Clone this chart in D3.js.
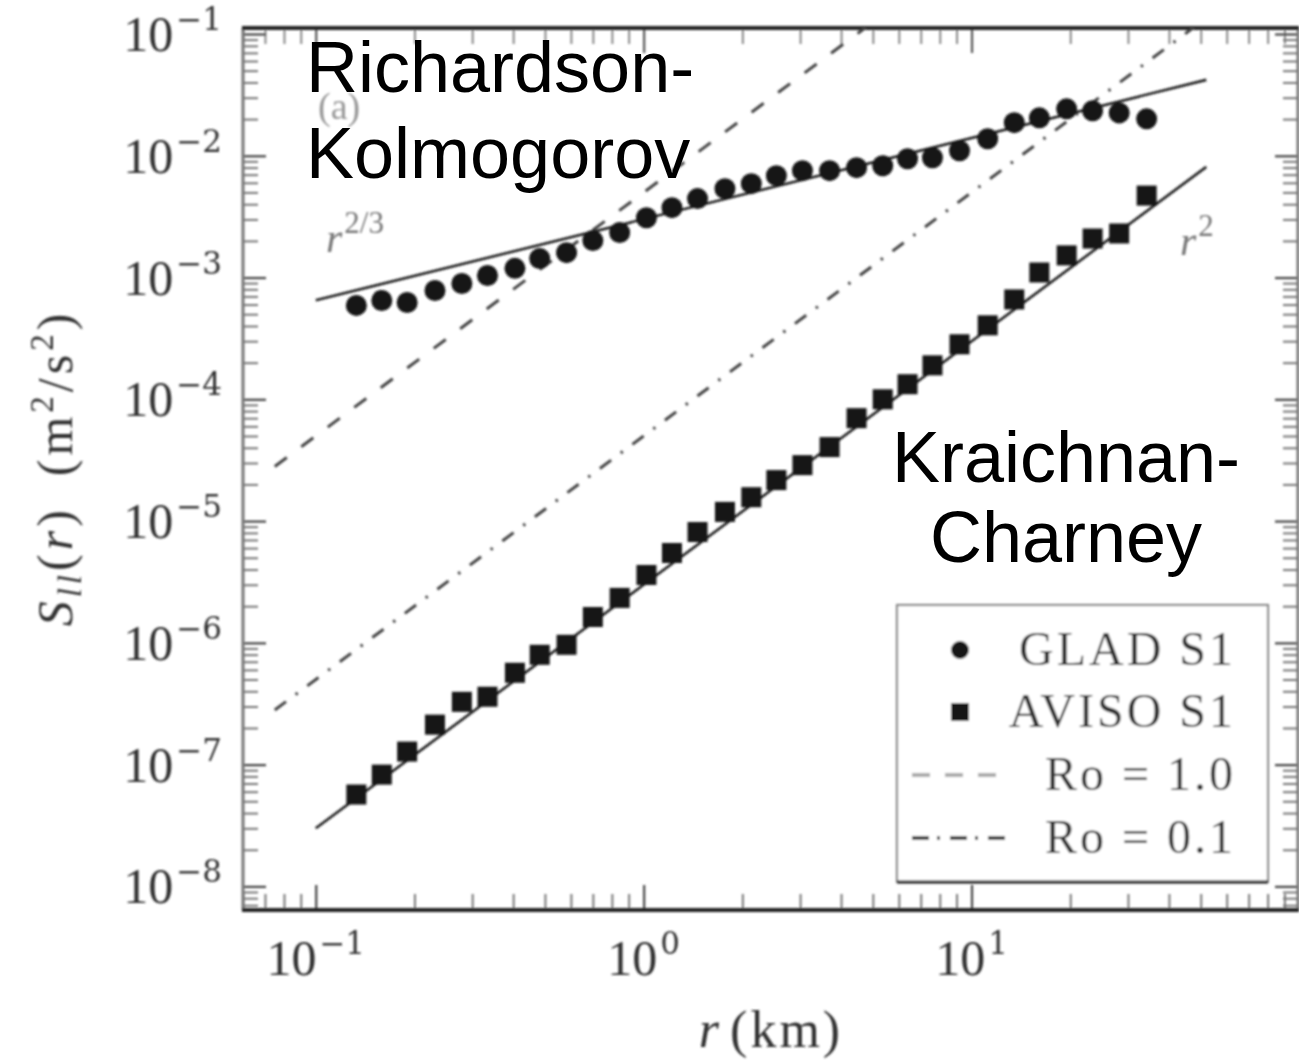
<!DOCTYPE html>
<html>
<head>
<meta charset="utf-8">
<script src="https://cdn.jsdelivr.net/npm/d3@7"></script>
<style>
  body { margin: 0; background: #fff; }
  svg { display: block; }
</style>
</head>
<body>
<svg id="chart" width="1299" height="1064"></svg>
<script>
// Separation bins r (km), shared by both datasets
const rBins = [0.133, 0.159, 0.190, 0.231, 0.279, 0.334, 0.405, 0.482, 0.582, 0.700,
               0.845, 1.02, 1.22, 1.46, 1.77, 2.13, 2.54, 3.05, 3.69, 4.46,
               5.36, 6.38, 7.60, 9.19, 11.2, 13.5, 16.1, 19.5, 23.4, 28.2, 34.2];

// Second-order longitudinal structure function S_ll(r), m^2/s^2
const gladS1 = [5.90e-4, 6.48e-4, 6.24e-4, 7.83e-4, 8.93e-4, 1.04e-3, 1.19e-3, 1.43e-3, 1.60e-3, 2.01e-3,
                2.34e-3, 3.10e-3, 3.75e-3, 4.45e-3, 5.37e-3, 5.90e-3, 6.86e-3, 7.54e-3, 7.54e-3, 7.98e-3,
                8.28e-3, 9.46e-3, 9.64e-3, 1.10e-2, 1.38e-2, 1.87e-2, 2.05e-2, 2.43e-2, 2.34e-2, 2.25e-2, 2.01e-2];
const avisoS1 = [5.68e-8, 8.28e-8, 1.28e-7, 2.13e-7, 3.28e-7, 3.61e-7, 5.68e-7, 7.98e-7, 9.64e-7, 1.63e-6,
                 2.34e-6, 3.61e-6, 5.47e-6, 8.13e-6, 1.19e-5, 1.57e-5, 2.17e-5, 2.88e-5, 4.05e-5, 7.00e-5,
                 1.00e-4, 1.33e-4, 1.90e-4, 2.83e-4, 4.05e-4, 6.61e-4, 1.10e-3, 1.52e-3, 2.09e-3, 2.30e-3, 4.71e-3];

// Power-law guide lines (end points)
const kolFitR = [0.1, 52];     const kolFitS = [6.5e-4, 4.2e-2];   // r^{2/3}
const kcFitR = [0.1, 52];      const kcFitS = [3.0e-8, 8.1e-3];    // r^2
const ro10R = [0.075, 5.0];    const ro10S = [2.81e-5, 0.125];     // Ro = 1.0
const ro01R = [0.075, 50];     const ro01S = [2.81e-7, 0.125];     // Ro = 0.1

// Axis ticks
const xMajor = [0.1, 1, 10];
const xExp = ["−1", "0", "1"];
const yMajor = [1e-1, 1e-2, 1e-3, 1e-4, 1e-5, 1e-6, 1e-7, 1e-8];
const yExp = ["−1", "−2", "−3", "−4", "−5", "−6", "−7", "−8"];

const legendLabels = ["GLAD S1", "AVISO S1", "Ro = 1.0", "Ro = 0.1"];

const svg = d3.select("#chart");
const L = 243, R = 1298, T = 28, B = 910;
const x = d3.scaleLog().domain([0.06, 99]).range([L, R]);
const y = d3.scaleLog().domain([0.112, 6.4e-9]).range([T, B]);

const defs = svg.append("defs");
defs.append("clipPath").attr("id", "plotClip")
  .append("rect").attr("x", L).attr("y", T).attr("width", R - L).attr("height", B - T);
defs.append("filter").attr("id", "soft")
  .attr("x", "-5%").attr("y", "-5%").attr("width", "110%").attr("height", "110%")
  .append("feGaussianBlur").attr("stdDeviation", 0.9);

const chart = svg.append("g").attr("filter", "url(#soft)");
const serif = "'Liberation Serif', 'DejaVu Serif', serif";
const wideSerif = "'DejaVu Serif', 'Liberation Serif', serif";

// ---- ticks (inside, on all four sides)
const xMinor = x.ticks().filter(v => !xMajor.some(m => Math.abs(m - v) / m < 1e-6));
const yMinor = y.ticks().filter(v => !yMajor.some(m => Math.abs(m - v) / m < 1e-6));

function tickAxis(axis, transform, values, size, color, width) {
  const g = chart.append("g").attr("transform", transform)
    .call(axis.tickValues(values).tickSize(-size).tickFormat(() => ""));
  g.select(".domain").remove();
  g.selectAll(".tick line").attr("stroke", color).attr("stroke-width", width);
}
tickAxis(d3.axisBottom(x), `translate(0,${B})`, xMinor, 16, "#777", 2);
tickAxis(d3.axisBottom(x), `translate(0,${B})`, xMajor, 25, "#444", 2.2);
tickAxis(d3.axisTop(x), `translate(0,${T})`, xMinor, 16, "#888", 2);
tickAxis(d3.axisTop(x), `translate(0,${T})`, xMajor, 25, "#555", 2.2);
tickAxis(d3.axisLeft(y), `translate(${L},0)`, yMinor, 15, "#777", 2);
tickAxis(d3.axisLeft(y), `translate(${L},0)`, yMajor, 23, "#444", 2.2);
tickAxis(d3.axisRight(y), `translate(${R},0)`, yMinor, 15, "#777", 2);
tickAxis(d3.axisRight(y), `translate(${R},0)`, yMajor, 23, "#444", 2.2);

// ---- frame
chart.append("line").attr("x1", L).attr("x2", L).attr("y1", T).attr("y2", B)
  .attr("stroke", "#777").attr("stroke-width", 3);
chart.append("line").attr("x1", R).attr("x2", R).attr("y1", T).attr("y2", B)
  .attr("stroke", "#777").attr("stroke-width", 3);
chart.append("line").attr("x1", L - 1).attr("x2", R + 1).attr("y1", T).attr("y2", T)
  .attr("stroke", "#222").attr("stroke-width", 4);
chart.append("line").attr("x1", L - 1).attr("x2", R + 1).attr("y1", B).attr("y2", B)
  .attr("stroke", "#222").attr("stroke-width", 4);

// ---- tick labels: 10 with a superscript exponent
function powerLabel(g, px, py, anchor, exp) {
  const t = g.append("text").attr("x", px).attr("y", py).attr("text-anchor", anchor)
    .attr("font-family", serif).attr("font-size", 50);
  t.append("tspan").text("10");
  t.append("tspan").attr("dx", 3).attr("dy", -21).attr("font-family", wideSerif)
    .attr("font-size", 31).text(exp);
}
const xl = chart.append("g").attr("fill", "#333");
xMajor.forEach((v, i) => powerLabel(xl, x(v), 975, "middle", xExp[i]));
const yl = chart.append("g").attr("fill", "#333");
yMajor.forEach((v, i) => powerLabel(yl, 222, y(v) + 17, "end", yExp[i]));

// ---- axis titles
const xt = chart.append("text").attr("x", 771).attr("y", 1047)
  .attr("text-anchor", "middle").attr("font-family", serif).attr("font-size", 52)
  .attr("letter-spacing", 3).attr("fill", "#333");
xt.append("tspan").attr("font-style", "italic").text("r");
xt.append("tspan").attr("dx", 8).text("(km)");

const yt = chart.append("text").attr("transform", "translate(72,468) rotate(-90)")
  .attr("text-anchor", "middle").attr("font-family", serif).attr("font-size", 50)
  .attr("letter-spacing", 4).attr("fill", "#333");
yt.append("tspan").attr("font-style", "italic").text("S");
yt.append("tspan").attr("font-style", "italic").attr("font-size", 33).attr("dy", 9).text("ll");
yt.append("tspan").attr("dy", -9).text("(");
yt.append("tspan").attr("font-style", "italic").text("r");
yt.append("tspan").text(")");
yt.append("tspan").attr("dx", 30).text("(m");
yt.append("tspan").attr("font-size", 33).attr("dy", -19).text("2");
yt.append("tspan").attr("dy", 19).text("/s");
yt.append("tspan").attr("font-size", 33).attr("dy", -19).text("2");
yt.append("tspan").attr("dy", 19).text(")");

// ---- plot contents
const plot = chart.append("g").attr("clip-path", "url(#plotClip)");
const line = d3.line().x(d => x(d[0])).y(d => y(d[1]));

plot.append("path").datum(d3.zip(ro10R, ro10S)).attr("d", line)
  .attr("fill", "none").attr("stroke", "#444").attr("stroke-width", 3)
  .attr("stroke-dasharray", "15 18");
plot.append("path").datum(d3.zip(ro01R, ro01S)).attr("d", line)
  .attr("fill", "none").attr("stroke", "#444").attr("stroke-width", 3)
  .attr("stroke-dasharray", "14 12 2.5 12");
plot.append("path").datum(d3.zip(kolFitR, kolFitS)).attr("d", line)
  .attr("fill", "none").attr("stroke", "#222").attr("stroke-width", 2.6);
plot.append("path").datum(d3.zip(kcFitR, kcFitS)).attr("d", line)
  .attr("fill", "none").attr("stroke", "#222").attr("stroke-width", 2.6);

plot.append("g").selectAll("circle").data(d3.zip(rBins, gladS1)).join("circle")
  .attr("cx", d => x(d[0])).attr("cy", d => y(d[1])).attr("r", 10.5).attr("fill", "#141414");
const sq = 20;
plot.append("g").selectAll("rect").data(d3.zip(rBins, avisoS1)).join("rect")
  .attr("x", d => x(d[0]) - sq / 2).attr("y", d => y(d[1]) - sq / 2)
  .attr("width", sq).attr("height", sq).attr("fill", "#141414");

// ---- in-plot labels
const lab = chart.append("g").attr("font-family", serif);
lab.append("text").attr("x", 318).attr("y", 119).attr("font-size", 38).attr("fill", "#999").text("(a)");
const r23 = lab.append("text").attr("x", 326).attr("y", 252).attr("font-size", 42).attr("fill", "#777");
r23.append("tspan").attr("font-style", "italic").text("r");
r23.append("tspan").attr("dx", 2).attr("dy", -19).attr("font-size", 31).text("2/3");
const r2 = lab.append("text").attr("x", 1180).attr("y", 255).attr("font-size", 42).attr("fill", "#777");
r2.append("tspan").attr("font-style", "italic").text("r");
r2.append("tspan").attr("dx", 2).attr("dy", -19).attr("font-size", 31).text("2");

// ---- legend
const lg = chart.append("g");
lg.append("rect").attr("x", 897).attr("y", 605).attr("width", 371).attr("height", 277)
  .attr("fill", "#fff").attr("stroke", "#888").attr("stroke-width", 2.2);
lg.append("line").attr("x1", 897).attr("x2", 1268).attr("y1", 882).attr("y2", 882)
  .attr("stroke", "#222").attr("stroke-width", 3);
const rowY = [650, 712, 775, 838];
lg.append("circle").attr("cx", 960).attr("cy", rowY[0]).attr("r", 9).attr("fill", "#141414");
lg.append("rect").attr("x", 960 - 9).attr("y", rowY[1] - 9).attr("width", 18).attr("height", 18).attr("fill", "#141414");
lg.append("line").attr("x1", 912).attr("x2", 996).attr("y1", rowY[2]).attr("y2", rowY[2])
  .attr("stroke", "#aaa").attr("stroke-width", 4).attr("stroke-dasharray", "18 15");
lg.append("line").attr("x1", 912).attr("x2", 1008).attr("y1", rowY[3]).attr("y2", rowY[3])
  .attr("stroke", "#222").attr("stroke-width", 3.5).attr("stroke-dasharray", "17 8 3 10");
legendLabels.forEach((s, i) => {
  lg.append("text").attr("x", 1236).attr("y", rowY[i] + 15).attr("text-anchor", "end")
    .attr("font-family", serif).attr("font-size", 48).attr("letter-spacing", 3)
    .attr("fill", "#333").text(s);
});

// ---- regime annotations
const ann = svg.append("g").attr("font-family", "'Liberation Sans', Arial, Helvetica, sans-serif")
  .attr("font-size", 72).attr("fill", "#000");
ann.append("text").attr("x", 306).attr("y", 92).text("Richardson-");
ann.append("text").attr("x", 306).attr("y", 178).text("Kolmogorov");
ann.append("text").attr("x", 1066).attr("y", 482).attr("text-anchor", "middle").text("Kraichnan-");
ann.append("text").attr("x", 1066).attr("y", 562).attr("text-anchor", "middle").text("Charney");
</script>
</body>
</html>
